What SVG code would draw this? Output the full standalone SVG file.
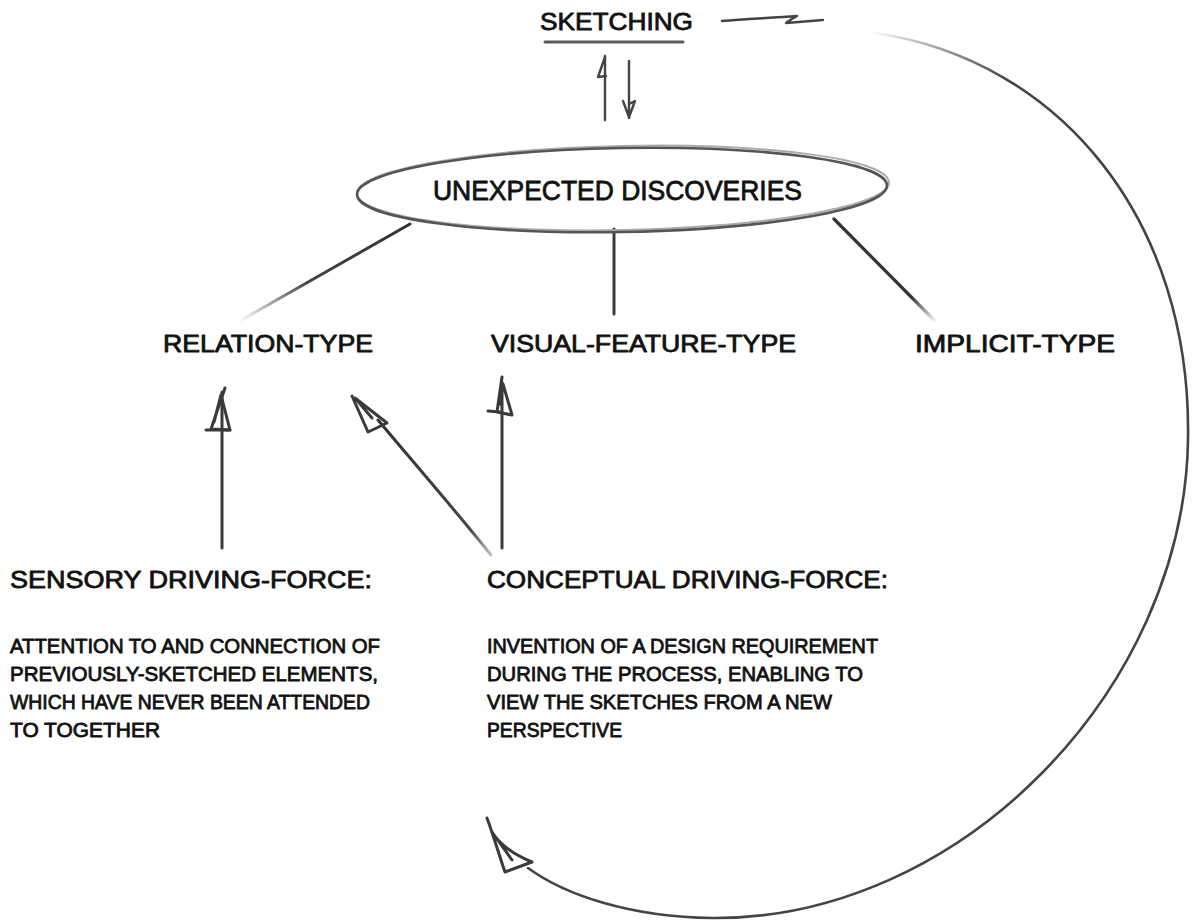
<svg xmlns="http://www.w3.org/2000/svg" width="1192" height="922" viewBox="0 0 1192 922">
  <style>
    .t { font-family: "Liberation Sans", Arial, sans-serif; fill: #111; stroke: #111; stroke-width: 0.8; stroke-linejoin: round; }
    .h { font-size: 24px; }
    .b { font-size: 20px; }
    .ink { fill: none; stroke: #3a3a3a; stroke-width: 3; stroke-linecap: round; stroke-linejoin: round; }
    .thin { fill: none; stroke: #444; stroke-width: 2.4; stroke-linecap: round; stroke-linejoin: round; }
  </style>
  <defs>
    <linearGradient id="fadeL" gradientUnits="userSpaceOnUse" x1="410" y1="224" x2="238" y2="322">
      <stop offset="0" stop-color="#333"/>
      <stop offset="0.6" stop-color="#444"/>
      <stop offset="1" stop-color="#444" stop-opacity="0"/>
    </linearGradient>
    <linearGradient id="fadeR" gradientUnits="userSpaceOnUse" x1="835" y1="220" x2="937" y2="322">
      <stop offset="0" stop-color="#333"/>
      <stop offset="0.75" stop-color="#333"/>
      <stop offset="1" stop-color="#333" stop-opacity="0"/>
    </linearGradient>
    <linearGradient id="arcRamp" gradientUnits="userSpaceOnUse" x1="870" y1="0" x2="1010" y2="0">
      <stop offset="0" stop-color="#000"/>
      <stop offset="0.2" stop-color="#333"/>
      <stop offset="1" stop-color="#fff"/>
    </linearGradient>
    <mask id="arcMask" maskUnits="userSpaceOnUse" x="0" y="0" width="1192" height="922">
      <rect x="0" y="0" width="1192" height="922" fill="#fff"/>
      <rect x="850" y="0" width="170" height="130" fill="url(#arcRamp)"/>
    </mask>
    <linearGradient id="fadeDiag" gradientUnits="userSpaceOnUse" x1="380" y1="425" x2="492" y2="556">
      <stop offset="0" stop-color="#333"/>
      <stop offset="0.8" stop-color="#444"/>
      <stop offset="1" stop-color="#444" stop-opacity="0.3"/>
    </linearGradient>
  </defs>

  <rect width="1192" height="922" fill="#fff"/>

  <!-- connectors -->
  <g id="connectors">
    <!-- squiggle after the title -->
    <path class="thin" d="M722,21 C745,19 770,18 797,16 C792,19 788,21 786,23 C798,22 810,21 823,20" stroke-width="2.2" stroke="#555"/>
    <!-- title underline -->
    <path d="M545,42 L683,42" stroke="#5a5a5a" stroke-width="3" fill="none" stroke-linecap="round"/>
    <!-- up arrow to the title -->
    <path class="thin" d="M605,120 L605,56" stroke="#555"/>
    <path class="thin" d="M605,57 L598,77 L606,76" stroke="#555"/>
    <!-- down arrow from the title -->
    <path class="thin" d="M629,61 L629,118" stroke="#444"/>
    <path class="thin" d="M623,101 L629,117 L635,101 L629,104" stroke="#444"/>

    <!-- ellipse to type labels -->
    <path d="M410,224 L238,322" stroke="url(#fadeL)" stroke-width="3" fill="none" stroke-linecap="round"/>
    <path d="M614,229 L614,314" stroke="#3a3a3a" stroke-width="3" fill="none" stroke-linecap="round"/>
    <path d="M834,219 L937,323" stroke="url(#fadeR)" stroke-width="3.2" fill="none" stroke-linecap="round"/>

    <!-- sensory -> relation -->
    <path class="ink" d="M222,548 L222,392"/>
    <path class="ink" d="M225,388 L211,429 L230,430 L221,395 L214,422"/>
    <path class="ink" d="M206,430 L230,430" stroke-width="2.2"/>

    <!-- conceptual -> relation -->
    <path d="M491,555 C455,510 420,470 378,420" stroke="url(#fadeDiag)" stroke-width="3" fill="none" stroke-linecap="round"/>
    <path class="ink" d="M352,396 L368,432 L387,423 L355,398 L372,418"/>

    <!-- conceptual -> visual feature -->
    <path class="ink" d="M502,548 L502,382"/>
    <path class="ink" d="M502,377 L497,412 L512,415 L503,384 L500,404 M488,411 L500,412"/>

    <!-- loop back from sketching around to conceptual -->
    <path d="M875,33 C1060,60 1192,220 1188,440 C1184,690 960,920 712,918 C630,917 565,895 528,868" fill="none" stroke="#444" stroke-width="2.6" stroke-linecap="round" mask="url(#arcMask)"/>
    <path class="ink" d="M487,818 C495,840 500,858 505,872 L532,862 C515,855 500,845 492,832 L512,860" stroke-width="2.8"/>
  </g>

  <!-- nodes -->
  <g id="node-sketching">
    <text class="t h" x="540" y="30" textLength="153" lengthAdjust="spacingAndGlyphs">SKETCHING</text>
  </g>

  <g id="node-unexpected">
    <ellipse cx="623" cy="188" rx="266" ry="42" fill="none" stroke="#aaa" stroke-width="2" transform="rotate(-1.2 623 188)"/>
    <ellipse cx="622" cy="190" rx="265" ry="42" fill="none" stroke="#555" stroke-width="2.6" transform="rotate(-1 622 190)"/>
    <text class="t" font-size="28" x="433" y="200" textLength="369" lengthAdjust="spacingAndGlyphs">UNEXPECTED DISCOVERIES</text>
  </g>

  <g id="node-relation">
    <text class="t h" x="163" y="352" textLength="210" lengthAdjust="spacingAndGlyphs">RELATION-TYPE</text>
  </g>
  <g id="node-visual">
    <text class="t h" x="491" y="352" textLength="305" lengthAdjust="spacingAndGlyphs">VISUAL-FEATURE-TYPE</text>
  </g>
  <g id="node-implicit">
    <text class="t h" x="915" y="352" textLength="200" lengthAdjust="spacingAndGlyphs">IMPLICIT-TYPE</text>
  </g>

  <g id="node-sensory">
    <text class="t h" x="10" y="588" textLength="362" lengthAdjust="spacingAndGlyphs">SENSORY DRIVING-FORCE:</text>
    <text class="t b" x="10" y="653" textLength="370" lengthAdjust="spacingAndGlyphs">ATTENTION TO AND CONNECTION OF</text>
    <text class="t b" x="10" y="681" textLength="368" lengthAdjust="spacingAndGlyphs">PREVIOUSLY-SKETCHED ELEMENTS,</text>
    <text class="t b" x="10" y="709" textLength="360" lengthAdjust="spacingAndGlyphs">WHICH HAVE NEVER BEEN ATTENDED</text>
    <text class="t b" x="10" y="737" textLength="150" lengthAdjust="spacingAndGlyphs">TO TOGETHER</text>
  </g>

  <g id="node-conceptual">
    <text class="t h" x="487" y="588" textLength="401" lengthAdjust="spacingAndGlyphs">CONCEPTUAL DRIVING-FORCE:</text>
    <text class="t b" x="487" y="653" textLength="391" lengthAdjust="spacingAndGlyphs">INVENTION OF A DESIGN REQUIREMENT</text>
    <text class="t b" x="487" y="681" textLength="376" lengthAdjust="spacingAndGlyphs">DURING THE PROCESS, ENABLING TO</text>
    <text class="t b" x="487" y="709" textLength="345" lengthAdjust="spacingAndGlyphs">VIEW THE SKETCHES FROM A NEW</text>
    <text class="t b" x="487" y="737" textLength="135" lengthAdjust="spacingAndGlyphs">PERSPECTIVE</text>
  </g>
</svg>
